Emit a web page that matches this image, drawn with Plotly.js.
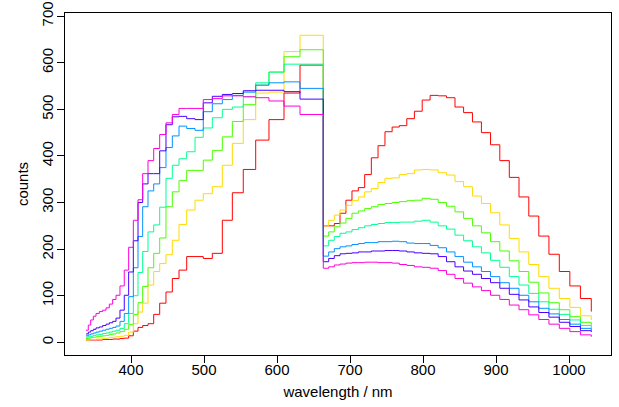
<!DOCTYPE html>
<html><head><meta charset="utf-8">
<script src="https://cdn.plot.ly/plotly-3.0.1.min.js"></script>
<style>html,body{margin:0;padding:0;background:#fff}</style>
</head><body>
<div id="chart" style="width:619px;height:407px"></div>
<script>
// bin start wavelengths (nm); the last value is the end of the final bin
const wavelength = [338.4,341.5,344.8,348.4,352.1,356.6,361.2,365.8,370.3,374.9,379.5,384.9,390.8,396.8,403.2,409.6,416.0,423.3,431.1,439.3,447.9,456.6,465.8,476.3,487.7,499.0,511.4,525.1,538.8,553.8,570.8,589.0,609.6,631.5,
  663.4,670.8,678.5,686.3,694.4,702.7,711.4,720.1,729.2,738.4,747.9,757.7,767.5,777.8,788.2,798.9,809.7,820.8,832.2,843.8,855.6,867.7,880.0,892.5,905.2,918.2,931.5,944.9,958.6,972.5,986.7,1001.1,1015.6,
  1030.5];

const countsRed = [5,5,5,5,5,5,6,6,6,7,7,8,9,14,24,32,36,40,60,84,108,137,155,184,184,180,191,262,321,371,434,478,535,595,
  250,250,255,277,305,325,332,360,396,422,452,462,465,480,496,520,530,529,525,505,493,473,450,424,390,354,312,271,228,189,152,121,94,
  66];
const countsYellow = [5,5,6,6,7,7,8,9,10,11,12,13,15,22,40,65,84,123,152,169,188,219,253,284,305,319,334,380,427,478,535,537,624,659,
  250,262,273,284,294,304,312,323,330,343,352,353,360,362,370,371,370,364,359,345,334,314,298,278,252,223,194,167,141,116,94,75,57,
  48];
const countsGreen = [8,9,10,11,12,13,14,15,17,18,20,23,28,38,60,85,120,160,191,224,291,323,347,369,369,391,412,441,474,510,552,580,613,628,
  228,237,248,256,266,277,282,287,291,296,298,300,302,304,305,309,307,300,292,280,266,250,235,216,196,175,152,129,106,85,70,55,43,
  36];
const countsSpring = [11,12,13,15,16,17,19,20,22,24,26,30,40,62,100,150,195,237,252,290,352,380,394,409,440,460,482,500,505,527,557,580,597,597,
  207,219,227,234,237,242,246,250,253,255,257,257,258,258,260,262,258,250,243,230,218,205,192,176,161,141,123,105,87,71,60,48,36,
  30];
const countsAzure = [14,16,18,20,22,24,26,28,30,32,35,45,62,98,160,227,291,325,340,375,418,443,464,459,455,495,512,521,530,537,552,557,559,545,
  185,194,201,205,207,210,212,214,214,216,216,217,216,213,212,212,208,203,194,184,172,162,152,141,128,116,101,87,73,61,49,39,30,
  25];
const countsViolet = [18,22,25,28,31,33,36,39,42,45,52,69,101,151,218,300,340,362,362,411,467,484,485,480,478,514,528,532,534,540,541,541,538,522,
  173,180,186,190,191,192,194,194,196,196,197,197,196,194,192,191,190,184,173,162,153,146,137,128,116,103,91,76,64,54,43,34,25,
  22];
const countsMagenta = [26,37,48,56,62,66,69,74,82,92,101,121,155,204,262,306,362,390,416,446,471,489,502,502,502,521,523,529,529,527,525,518,507,489,
  159,162,166,168,170,171,171,172,172,171,171,170,167,165,162,161,159,154,146,137,127,119,111,101,92,80,70,59,49,39,30,23,16,
  12];

const seriesValues = [countsRed, countsYellow, countsGreen, countsSpring, countsAzure, countsViolet, countsMagenta];
const seriesColors = ['#FF0000','#FFDB00','#49FF00','#00FF92','#0092FF','#4900FF','#FF00DB'];
const xTickValues = [400,500,600,700,800,900,1000];
const yTickValues = [0,100,200,300,400,500,600,700];

const font = {family: 'Liberation Sans, Arial, Helvetica, sans-serif', size: 15, color: '#000'};

const traces = seriesValues.map((vals, i) => ({
  x: wavelength, y: vals, type: 'scatter', mode: 'lines',
  line: {shape: 'hv', color: seriesColors[i], width: 1},
  hoverinfo: 'skip'
}));

const layout = {
  width: 619, height: 407,
  margin: {l: 65, r: 8, t: 13, b: 52, pad: 0},
  showlegend: false,
  paper_bgcolor: '#fff', plot_bgcolor: '#fff',
  font: font,
  xaxis: {
    range: [309.6, 1057.5], tickvals: xTickValues, ticktext: xTickValues.map(String),
    ticks: 'outside', ticklen: 7, tickwidth: 1, tickcolor: '#000',
    ticklabelstandoff: -6,
    showline: true, mirror: true, linecolor: '#000', linewidth: 1,
    showgrid: false, zeroline: false, tickfont: font,
    title: {text: 'wavelength / nm', font: font, standoff: 9}
  },
  yaxis: {
    range: [-27.2, 706.8], tickvals: yTickValues, ticktext: yTickValues.map(String),
    tickangle: -90,
    ticks: 'outside', ticklen: 7, tickwidth: 1, tickcolor: '#000',
    ticklabelstandoff: -2,
    showline: true, mirror: true, linecolor: '#000', linewidth: 1,
    showgrid: false, zeroline: false, tickfont: font,
    title: {text: 'counts', font: font, standoff: 6}
  }
};

Plotly.newPlot('chart', traces, layout, {staticPlot: true, displayModeBar: false});
</script>
</body></html>
